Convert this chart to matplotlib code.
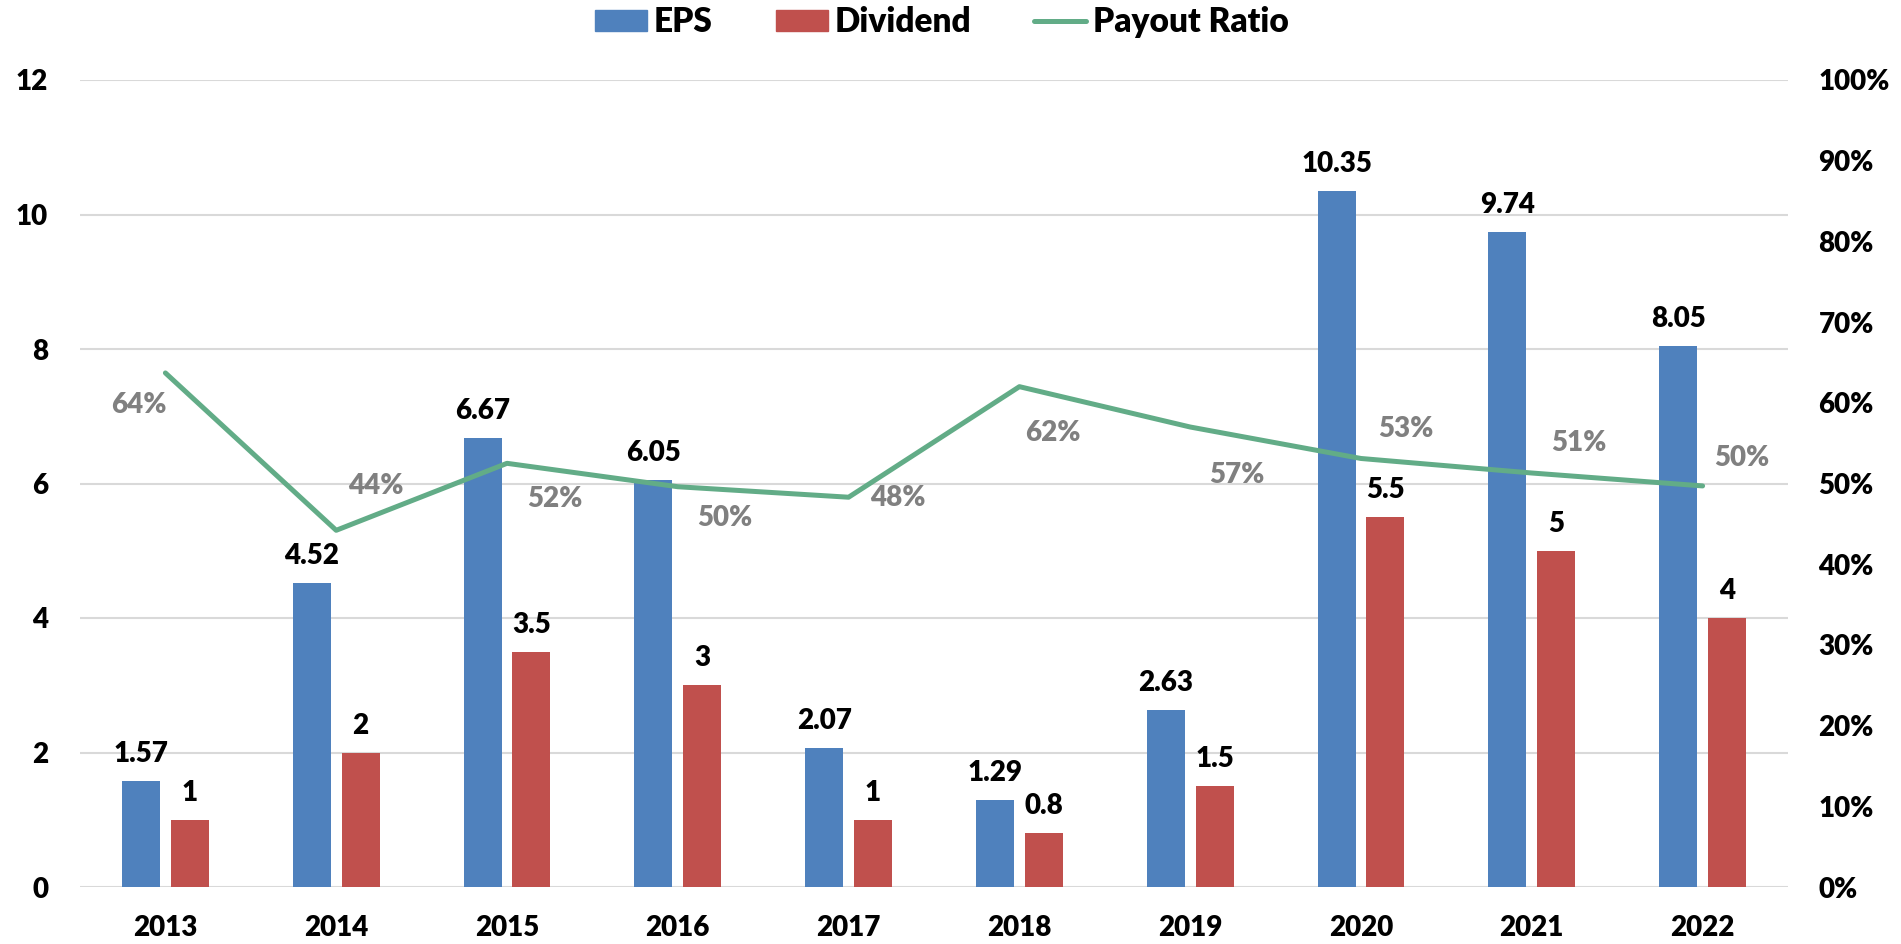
import matplotlib
matplotlib.use("Agg")
import matplotlib.pyplot as plt
from matplotlib.patches import Patch
from matplotlib.lines import Line2D
from matplotlib.ticker import FuncFormatter
import numpy as np

years = ["2013", "2014", "2015", "2016", "2017", "2018", "2019", "2020", "2021", "2022"]
eps = [1.57, 4.52, 6.67, 6.05, 2.07, 1.29, 2.63, 10.35, 9.74, 8.05]
dividend = [1, 2, 3.5, 3, 1, 0.8, 1.5, 5.5, 5, 4]
payout = [0.637, 0.442, 0.525, 0.496, 0.483, 0.620, 0.570, 0.531, 0.513, 0.497]
eps_labels = ["1.57", "4.52", "6.67", "6.05", "2.07", "1.29", "2.63", "10.35", "9.74", "8.05"]
div_labels = ["1", "2", "3.5", "3", "1", "0.8", "1.5", "5.5", "5", "4"]
payout_labels = ["64%", "44%", "52%", "50%", "48%", "62%", "57%", "53%", "51%", "50%"]
left_ticks = [0, 2, 4, 6, 8, 10, 12]
right_ticks = [0, 0.1, 0.2, 0.3, 0.4, 0.5, 0.6, 0.7, 0.8, 0.9, 1.0]

# label offsets (pixels) for payout labels
pct_offsets = [(-27, -32), (40, 44), (48, -36), (47, -31), (49, -1),
               (33, -46), (47, -48), (45, 29), (47, 30), (39, 28)]

FONT = "Lato"
WEIGHT = "heavy"
C_EPS = "#4F81BD"
C_DIV = "#C0504D"
C_LINE = "#62AC87"
C_GRID = "#D9D9D9"
FS = 20

W, H = 1901, 944
fig = plt.figure(figsize=(W / 100, H / 100), dpi=100)
ax = fig.add_axes([80 / W, (H - 887) / H, 1708 / W, 807 / H])
ax2 = ax.twinx()

x = np.arange(len(years))
bw = 0.2225
off = 0.143
ax.bar(x - off, eps, bw, color=C_EPS, zorder=2)
ax.bar(x + off, dividend, bw, color=C_DIV, zorder=2)

for xi, v, s in zip(x, eps, eps_labels):
    ax.annotate(s, (xi - off, v), xytext=(0, 19), textcoords="offset pixels",
                ha="center", va="baseline", fontsize=FS, fontweight=WEIGHT,
                family=FONT, color="black", zorder=5)
for xi, v, s in zip(x, dividend, div_labels):
    ax.annotate(s, (xi + off, v), xytext=(0, 19), textcoords="offset pixels",
                ha="center", va="baseline", fontsize=FS, fontweight=WEIGHT,
                family=FONT, color="black", zorder=5)

ax2.plot(x, payout, color=C_LINE, lw=3.6, solid_capstyle="round", zorder=3)
for xi, v, s, (dx, dy) in zip(x, payout, payout_labels, pct_offsets):
    ax2.annotate(s, (xi, v), xytext=(dx, dy), textcoords="offset pixels",
                 ha="center", va="center", fontsize=FS, fontweight=WEIGHT,
                 family=FONT, color="#808080", zorder=5)

ax.set_xlim(-0.5, len(years) - 0.5)
ax.set_ylim(0, 12)
ax2.set_ylim(0, 1)
ax.set_yticks(left_ticks)
ax2.set_yticks(right_ticks)
ax2.yaxis.set_major_formatter(FuncFormatter(lambda v, p: f"{v*100:.0f}%"))
ax.set_xticks(x)
ax.set_xticklabels(years)

ax.yaxis.grid(True, color=C_GRID, lw=1.5, zorder=0)
ax.set_axisbelow(True)
for a in (ax, ax2):
    for sp in a.spines.values():
        sp.set_visible(False)
ax.tick_params(axis="y", length=0, pad=23)
ax2.tick_params(axis="y", length=0, pad=22)
ax.tick_params(axis="x", length=0, pad=20)
for lab in ax.get_yticklabels() + ax.get_xticklabels() + ax2.get_yticklabels():
    lab.set_fontfamily(FONT)
    lab.set_fontweight(WEIGHT)
    lab.set_fontsize(FS)

handles = [Patch(color=C_EPS, label="EPS"), Patch(color=C_DIV, label="Dividend"),
           Line2D([0], [0], color=C_LINE, lw=3.6, solid_capstyle="round", label="Payout Ratio")]
fig.legend(handles=handles, loc="center", bbox_to_anchor=(942 / W, 1 - 22 / H), ncol=3,
           frameon=False, prop={"family": FONT, "weight": WEIGHT, "size": 24},
           handlelength=1.56, handleheight=0.6, handletextpad=0.2, columnspacing=1.9,
           borderaxespad=0, borderpad=0)

fig.savefig("out.png", dpi=100)
